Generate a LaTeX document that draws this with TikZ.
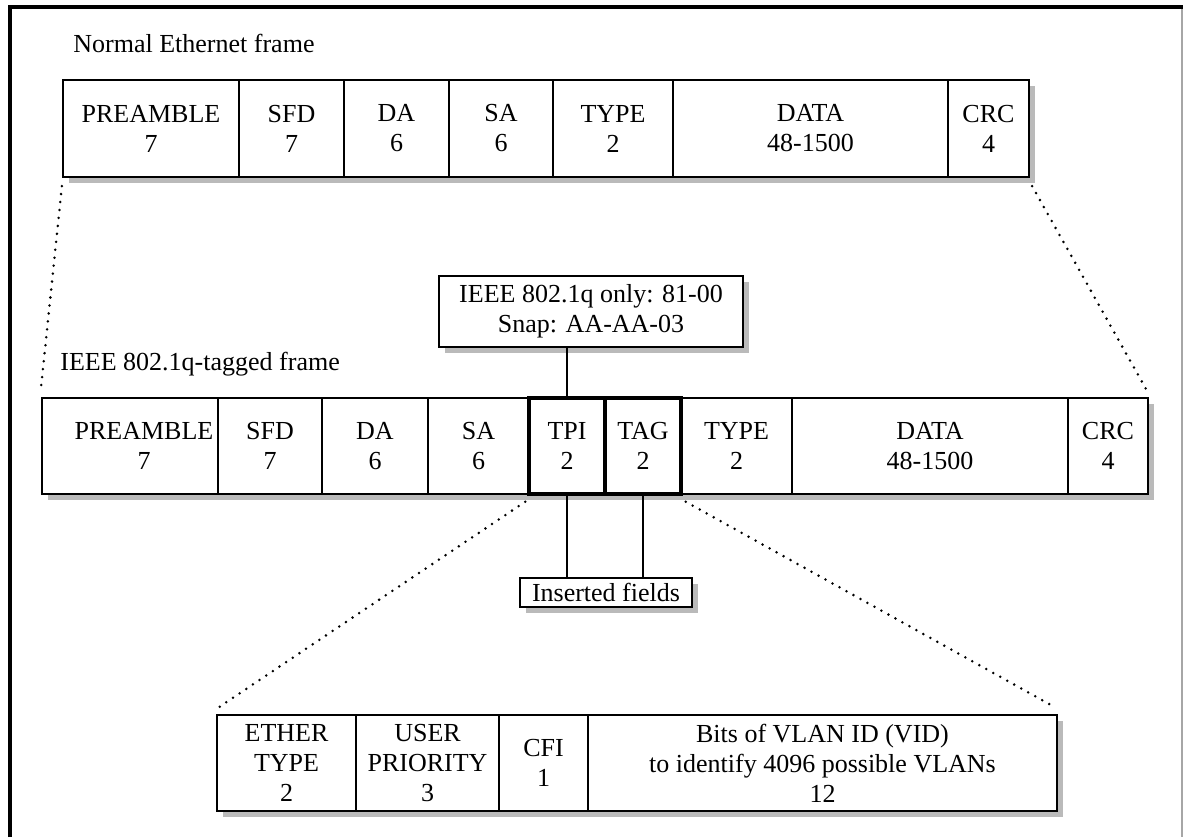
\documentclass[tikz,border=0pt]{standalone}
\usepackage{fontspec}
\setmainfont{Liberation Serif}
\usetikzlibrary{calc}

% a field: name, x1, y1, x2, y2, text  (coordinates in px of a 1185 x 837 sheet)
\newcommand\fieldnode[7][]{%
  \node[fieldbox,#1,minimum width={(#5-#3)*0.5pt},minimum height={(#6-#4)*0.5pt}]
    (#2) at ({(#3+#5)/2},{(#4+#6)/2}) {#7};}
% grey drop shadow behind a box
\newcommand\boxshade[4]{\fill[shade] ({#1+6},{#2+6}) rectangle ({#3+6},{#4+6});}

\begin{document}
\begin{tikzpicture}[x=0.5pt,y=-0.5pt,
  font=\fontsize{13}{15}\selectfont,
  fieldbox/.style={draw=black,line width=1.1pt,fill=white,inner sep=0pt,align=center},
  tagged/.style={line width=1.7pt},
  shade/.style={fill=black!27},
  zoomline/.style={line width=1.4pt,line cap=round,dash pattern=on 0pt off 4pt},
  link/.style={line width=1.1pt},
  title/.style={anchor=base west,inner sep=0pt}]

\useasboundingbox (0,0) rectangle (1185,837);

% page frame
\draw[black!35,line width=1pt] (1182,7) -- (1182,837);
\draw[black,line width=2pt] (10,837) -- (10,7) -- (1183,7);

% ---------- normal Ethernet frame ----------
\node[title] (t1) at (73,52) {Normal Ethernet frame};
\boxshade{63}{80}{1029}{177}
\fieldnode{n-pre}{63}{80}{239}{177}{PREAMBLE\\7}
\fieldnode{n-sfd}{239}{80}{344}{177}{SFD\\7}
\fieldnode{n-da}{344}{80}{449}{177}{DA\\6}
\fieldnode{n-sa}{449}{80}{553}{177}{SA\\6}
\fieldnode{n-type}{553}{80}{673}{177}{TYPE\\2}
\fieldnode{n-data}{673}{80}{948}{177}{DATA\\48-1500}
\fieldnode{n-crc}{948}{80}{1029}{177}{CRC\\4}

% ---------- 802.1q tagged frame ----------
\node[title] (t2) at (60,370) {IEEE 802.1q-tagged frame};
\boxshade{42}{398}{1148}{494}
\fieldnode{q-pre}{42}{398}{218}{494}{}
\node[inner sep=0pt,align=center] (q-pretxt) at ($(q-pre)+(14,0)$) {PREAMBLE\\7};
\fieldnode{q-sfd}{218}{398}{322}{494}{SFD\\7}
\fieldnode{q-da}{322}{398}{428}{494}{DA\\6}
\fieldnode{q-sa}{428}{398}{529}{494}{SA\\6}
\fieldnode{q-type}{681}{398}{792}{494}{TYPE\\2}
\fieldnode{q-data}{792}{398}{1068}{494}{DATA\\48-1500}
\fieldnode{q-crc}{1068}{398}{1148}{494}{CRC\\4}
\fieldnode[tagged]{q-tpi}{529}{398}{605}{494}{TPI\\2}
\fieldnode[tagged]{q-tag}{605}{398}{681}{494}{TAG\\2}

% protocol identifier note
\boxshade{439}{276}{743}{347}
\fieldnode{tpid}{439}{276}{743}{347}{IEEE 802.1q only: 81-00\\Snap: AA-AA-03}
\draw[link] (q-tpi.north |- tpid.south) -- (q-tpi.north);

% inserted fields note
\boxshade{520}{578}{692}{607}
\fieldnode{ins}{520}{578}{692}{607}{Inserted fields}
\draw[link] (q-tpi.south) -- (q-tpi.south |- ins.north);
\draw[link] (q-tag.south) -- (q-tag.south |- ins.north);

% ---------- tag control information ----------
\boxshade{217}{715}{1057}{811}
\fieldnode{c-eth}{217}{715}{356}{811}{ETHER\\TYPE\\2}
\fieldnode{c-pri}{356}{715}{499}{811}{USER\\PRIORITY\\3}
\fieldnode{c-cfi}{499}{715}{588}{811}{CFI\\1}
\fieldnode{c-vid}{588}{715}{1057}{811}{Bits of VLAN ID (VID)\\to identify 4096 possible VLANs\\12}

% expansion guides
\draw[zoomline] ($(n-pre.south west)+(0,8)$) -- ($(q-pre.north west)+(0,-8)$);
\draw[zoomline] ($(n-crc.south east)+(2,8)$) -- ($(q-crc.north east)+(-2,-6)$);
\draw[zoomline] ($(q-tpi.south west)+(-2,6)$) -- ($(c-eth.north west)+(2,-6)$);
\draw[zoomline] ($(q-tag.south east)+(3,6)$) -- ($(c-vid.north east)+(-2,-6)$);

\end{tikzpicture}
\end{document}
